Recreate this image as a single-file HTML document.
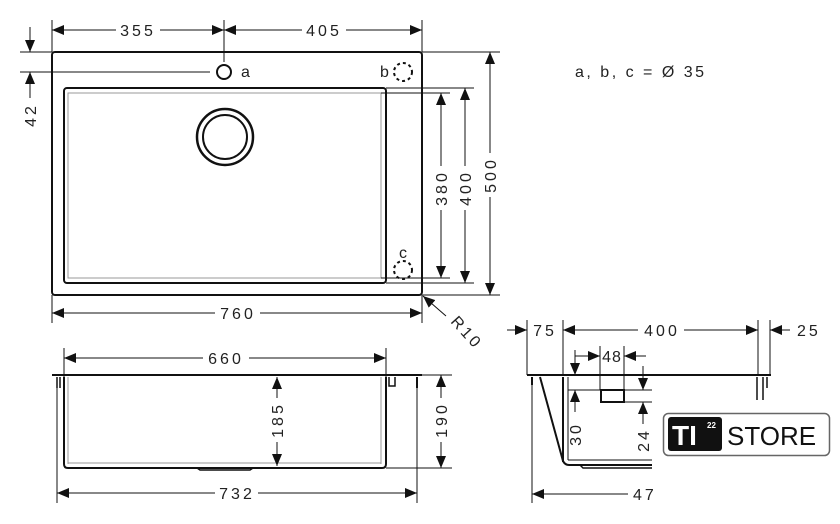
<!DOCTYPE html>
<html><head><meta charset="utf-8"><style>
html,body{margin:0;padding:0;background:#fff;}
svg{display:block;}
text{font-family:"Liberation Sans",sans-serif;font-size:16px;fill:#222;letter-spacing:3px;}
</style></head><body>
<svg width="840" height="524" viewBox="0 0 840 524" xmlns="http://www.w3.org/2000/svg">
<defs>
<marker id="a" viewBox="0 0 12 10" refX="12" refY="5" markerWidth="12" markerHeight="10" markerUnits="userSpaceOnUse" orient="auto-start-reverse"><path d="M0,0L12,5L0,10Z" fill="#111"/></marker>
</defs>
<g stroke="#111" fill="none" stroke-width="1">
<rect x="52" y="52" width="370" height="243" rx="3" stroke-width="2"/>
<rect x="64" y="88" width="322" height="195" rx="3" stroke-width="2"/>
<rect x="68" y="93" width="313" height="185" stroke="#999"/>
<circle cx="225" cy="137" r="28" stroke-width="2.5"/>
<circle cx="225" cy="137" r="22" stroke-width="2"/>
<circle cx="224" cy="72" r="7" stroke-width="2"/>
<circle cx="403" cy="72" r="9" stroke-width="2" stroke-dasharray="3 3"/>
<circle cx="403" cy="270" r="9" stroke-width="2" stroke-dasharray="3 3"/>
<line x1="52" y1="20" x2="52" y2="52"/><line x1="224" y1="20" x2="224" y2="62"/><line x1="422" y1="20" x2="422" y2="52"/>
<line x1="52" y1="30" x2="116" y2="30" marker-start="url(#a)"/><line x1="160" y1="30" x2="224" y2="30" marker-end="url(#a)"/>
<line x1="224" y1="30" x2="302" y2="30" marker-start="url(#a)"/><line x1="346" y1="30" x2="422" y2="30" marker-end="url(#a)"/>
<line x1="20" y1="52" x2="52" y2="52"/><line x1="20" y1="72" x2="210" y2="72"/>
<line x1="30" y1="27" x2="30" y2="52" marker-end="url(#a)"/>
<line x1="30" y1="98" x2="30" y2="72" marker-end="url(#a)"/>
<line x1="386" y1="88" x2="474" y2="88"/><line x1="381" y1="93" x2="450" y2="93"/>
<line x1="381" y1="278" x2="450" y2="278"/><line x1="386" y1="283" x2="474" y2="283"/>
<line x1="422" y1="52" x2="500" y2="52"/><line x1="422" y1="295" x2="500" y2="295"/>
<line x1="441" y1="93" x2="441" y2="166" marker-start="url(#a)"/><line x1="441" y1="210" x2="441" y2="278" marker-end="url(#a)"/>
<line x1="465" y1="88" x2="465" y2="166" marker-start="url(#a)"/><line x1="465" y1="210" x2="465" y2="283" marker-end="url(#a)"/>
<line x1="490" y1="52" x2="490" y2="153" marker-start="url(#a)"/><line x1="490" y1="197" x2="490" y2="295" marker-end="url(#a)"/>
<line x1="52" y1="295" x2="52" y2="323"/><line x1="422" y1="295" x2="422" y2="323"/>
<line x1="52" y1="313" x2="215" y2="313" marker-start="url(#a)"/><line x1="260" y1="313" x2="422" y2="313" marker-end="url(#a)"/>
<line x1="446" y1="316" x2="423" y2="296" marker-end="url(#a)"/>
<line x1="52" y1="375" x2="422" y2="375" stroke-width="2"/>
<path d="M64,377 V464 Q64,468 68,468 H382 Q386,468 386,464 V377" stroke-width="2"/>
<line x1="68" y1="377" x2="68" y2="464" stroke="#999"/><line x1="381" y1="377" x2="381" y2="464" stroke="#999"/>
<line x1="68" y1="463" x2="381" y2="463" stroke="#999"/>
<path d="M197,468 L200,470 H250 L253,468" stroke-width="1.5"/>
<path d="M57,377 V388 M60,377 V388" stroke-width="1.5"/>
<path d="M389,377 V386 H395 V377" stroke-width="1.5"/>
<path d="M417,377 V388" stroke-width="2"/>
<line x1="64" y1="348" x2="64" y2="377"/><line x1="386" y1="348" x2="386" y2="377"/>
<line x1="64" y1="358" x2="203" y2="358" marker-start="url(#a)"/><line x1="249" y1="358" x2="386" y2="358" marker-end="url(#a)"/>
<line x1="277" y1="377" x2="277" y2="398" marker-start="url(#a)"/><line x1="277" y1="442" x2="277" y2="466" marker-end="url(#a)"/>
<line x1="422" y1="375" x2="452" y2="375"/><line x1="386" y1="468" x2="452" y2="468"/>
<line x1="441" y1="375" x2="441" y2="398" marker-start="url(#a)"/><line x1="441" y1="442" x2="441" y2="468" marker-end="url(#a)"/>
<line x1="57" y1="388" x2="57" y2="503"/><line x1="417" y1="388" x2="417" y2="503"/>
<line x1="57" y1="493" x2="215" y2="493" marker-start="url(#a)"/><line x1="258" y1="493" x2="417" y2="493" marker-end="url(#a)"/>
<line x1="527" y1="375" x2="771" y2="375" stroke-width="2"/>
<line x1="527" y1="320" x2="527" y2="375"/><line x1="563" y1="320" x2="563" y2="375"/>
<line x1="758" y1="320" x2="758" y2="375"/><line x1="770" y1="320" x2="770" y2="375"/>
<line x1="507" y1="330" x2="527" y2="330" marker-end="url(#a)"/>
<line x1="563" y1="330" x2="638" y2="330" marker-start="url(#a)"/><line x1="684" y1="330" x2="758" y2="330" marker-end="url(#a)"/>
<line x1="790" y1="330" x2="770" y2="330" marker-end="url(#a)"/>
<path d="M532,377 V385" stroke-width="2"/><path d="M757,377 V400 M763,377 V400 M767,377 V388" stroke-width="1.5"/>
<path d="M540,377 L563,461 Q565,465 569,465 H652" stroke-width="2"/>
<line x1="563" y1="377" x2="563" y2="462" stroke-width="2"/>
<line x1="568" y1="377" x2="568" y2="460"/>
<line x1="568" y1="460" x2="652" y2="460"/>
<path d="M580,465 L583,468 H652" stroke-width="1.5"/>
<line x1="532" y1="385" x2="532" y2="503"/>
<line x1="532" y1="494" x2="628" y2="494" marker-start="url(#a)"/>
<rect x="601" y="390" width="23" height="12" stroke-width="2"/>
<line x1="600" y1="346" x2="600" y2="390"/><line x1="624" y1="346" x2="624" y2="390"/>
<line x1="575" y1="356" x2="600" y2="356" marker-end="url(#a)"/><line x1="646" y1="356" x2="624" y2="356" marker-end="url(#a)"/>
<line x1="575" y1="350" x2="575" y2="375" marker-end="url(#a)"/>
<line x1="568" y1="390" x2="652" y2="390"/><line x1="624" y1="402" x2="652" y2="402"/>
<line x1="575" y1="412" x2="575" y2="390" marker-end="url(#a)"/>
<line x1="643" y1="366" x2="643" y2="390" marker-end="url(#a)"/>
<line x1="643" y1="424" x2="643" y2="402" marker-end="url(#a)"/>
</g>
<g>
<text x="138" y="36" text-anchor="middle">355</text>
<text x="324" y="36" text-anchor="middle">405</text>
<text x="238" y="319" text-anchor="middle">760</text>
<text x="226" y="364" text-anchor="middle">660</text>
<text x="237" y="499" text-anchor="middle">732</text>
<text x="241" y="77" style="letter-spacing:0">a</text>
<text x="380" y="77" style="letter-spacing:0">b</text>
<text x="399" y="258" style="letter-spacing:0">c</text>
<text x="575" y="77" style="letter-spacing:2.5px">a, b, c = Ø 35</text>
<text transform="translate(36,115) rotate(-90)" text-anchor="middle">42</text>
<text transform="translate(447,188) rotate(-90)" text-anchor="middle">380</text>
<text transform="translate(471,188) rotate(-90)" text-anchor="middle">400</text>
<text transform="translate(496,175) rotate(-90)" text-anchor="middle">500</text>
<text transform="translate(283,420) rotate(-90)" text-anchor="middle">185</text>
<text transform="translate(447,420) rotate(-90)" text-anchor="middle">190</text>
<text transform="translate(581,434) rotate(-90)" text-anchor="middle">30</text>
<text transform="translate(649,440) rotate(-90)" text-anchor="middle">24</text>
<text transform="translate(450,322) rotate(48)">R10</text>
<text x="545" y="336" text-anchor="middle">75</text>
<text x="662" y="336" text-anchor="middle">400</text>
<text x="797" y="336">25</text>
<text x="612" y="362" text-anchor="middle" style="letter-spacing:1px">48</text>
<text x="633" y="500">47</text>
</g>
<rect x="663.5" y="413.5" width="166" height="42" rx="5" fill="#fff" stroke="#666" stroke-width="1.5"/>
<rect x="668" y="417" width="54" height="34" rx="3" fill="#111"/>
<text x="672" y="445" style="font-size:28px;font-weight:bold;fill:#fff;letter-spacing:0">TI</text>
<text x="707" y="428" style="font-size:8px;font-weight:bold;fill:#fff;letter-spacing:0">22</text>
<text x="727" y="445" style="font-size:26px;fill:#111;letter-spacing:0">STORE</text>
</svg>
</body></html>
